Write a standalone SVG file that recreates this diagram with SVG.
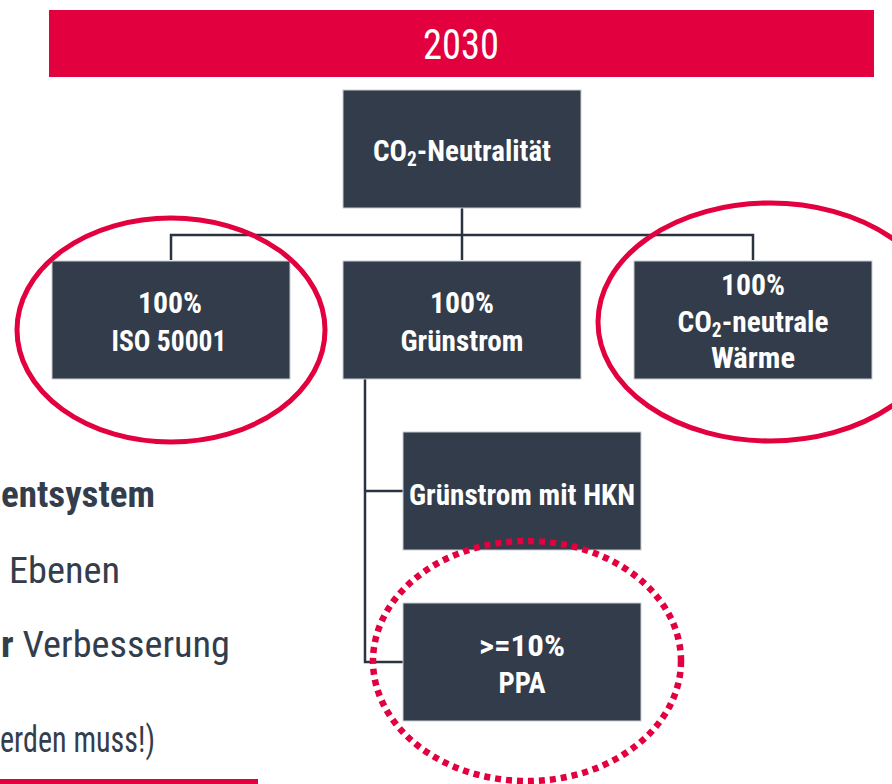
<svg xmlns="http://www.w3.org/2000/svg" width="892" height="784" viewBox="0 0 892 784">
<defs>
<style>
.box{fill:#323c4a;stroke:#c9ccd1;stroke-width:1}
.bt{font-family:"Liberation Sans Narrow","Roboto Condensed","Liberation Sans",sans-serif;font-weight:bold;font-size:30px;fill:#ffffff;text-anchor:middle}
.conn{fill:none;stroke:#2a3340;stroke-width:2.5}
.ring{fill:none;stroke:#e2003f;stroke-width:5}
.dots{fill:none;stroke:#e2003f;stroke-width:6.5;stroke-dasharray:6 5}
.side{font-family:"Liberation Sans Narrow","Roboto Condensed","Liberation Sans",sans-serif;font-size:36px;fill:#333d4b}
</style>
</defs>
<rect width="892" height="784" fill="#ffffff"/>

<g id="header">
<rect x="49" y="10" width="825" height="67" fill="#e2003f"/>
<text x="461" y="59" font-family="Liberation Sans Narrow,Roboto Condensed,Liberation Sans,sans-serif" font-size="42" fill="#ffffff" text-anchor="middle" textLength="76" lengthAdjust="spacingAndGlyphs">2030</text>
</g>

<g id="side-text">
<text class="side" x="1" y="507" font-weight="bold" textLength="154" lengthAdjust="spacingAndGlyphs">entsystem</text>
<text class="side" x="9" y="583" textLength="111" lengthAdjust="spacingAndGlyphs">Ebenen</text>
<text class="side" x="1" y="657" textLength="229" lengthAdjust="spacingAndGlyphs"><tspan font-weight="bold">r</tspan> Verbesserung</text>
<text class="side" x="0" y="752" font-size="28" textLength="155" lengthAdjust="spacingAndGlyphs">erden muss!)</text>
<rect x="0" y="779" width="258" height="5" fill="#e2003f"/>
</g>

<g id="connectors">
<path class="conn" d="M462 208 V260"/>
<path class="conn" d="M171 260 V235 H753 V260"/>
<path class="conn" d="M365 379 V662 H403"/>
<path class="conn" d="M365 491 H403"/>
</g>

<g id="node-co2">
<rect class="box" x="343" y="90" width="238" height="118"/>
<text class="bt" x="462" y="161" textLength="178" lengthAdjust="spacingAndGlyphs">CO<tspan font-size="20" dy="5">2</tspan><tspan dy="-5">-Neutralität</tspan></text>
</g>

<g id="node-iso">
<rect class="box" x="52" y="261" width="238" height="118"/>
<text class="bt" x="170" y="313" textLength="64" lengthAdjust="spacingAndGlyphs">100%</text>
<text class="bt" x="169" y="351" textLength="115" lengthAdjust="spacingAndGlyphs">ISO 50001</text>
</g>

<g id="node-gruenstrom">
<rect class="box" x="343" y="261" width="238" height="118"/>
<text class="bt" x="462" y="313" textLength="64" lengthAdjust="spacingAndGlyphs">100%</text>
<text class="bt" x="462" y="351" textLength="123" lengthAdjust="spacingAndGlyphs">Grünstrom</text>
</g>

<g id="node-waerme">
<rect class="box" x="634" y="261" width="238" height="118"/>
<text class="bt" x="753" y="295" textLength="64" lengthAdjust="spacingAndGlyphs">100%</text>
<text class="bt" x="753" y="332" textLength="151" lengthAdjust="spacingAndGlyphs">CO<tspan font-size="20" dy="5">2</tspan><tspan dy="-5">-neutrale</tspan></text>
<text class="bt" x="753" y="368" textLength="84" lengthAdjust="spacingAndGlyphs">Wärme</text>
</g>

<g id="node-hkn">
<rect class="box" x="403" y="432" width="238" height="118"/>
<text class="bt" x="522" y="505" textLength="226" lengthAdjust="spacingAndGlyphs">Grünstrom mit HKN</text>
</g>

<g id="node-ppa">
<rect class="box" x="403" y="603" width="238" height="118"/>
<text class="bt" x="522" y="656" textLength="86" lengthAdjust="spacingAndGlyphs">&gt;=10%</text>
<text class="bt" x="522" y="693" textLength="47" lengthAdjust="spacingAndGlyphs">PPA</text>
</g>

<g id="highlights">
<ellipse class="ring" cx="171" cy="330" rx="154" ry="112"/>
<ellipse class="ring" cx="770" cy="322" rx="172" ry="119"/>
<ellipse class="dots" cx="527" cy="661" rx="154" ry="120"/>
</g>
</svg>
